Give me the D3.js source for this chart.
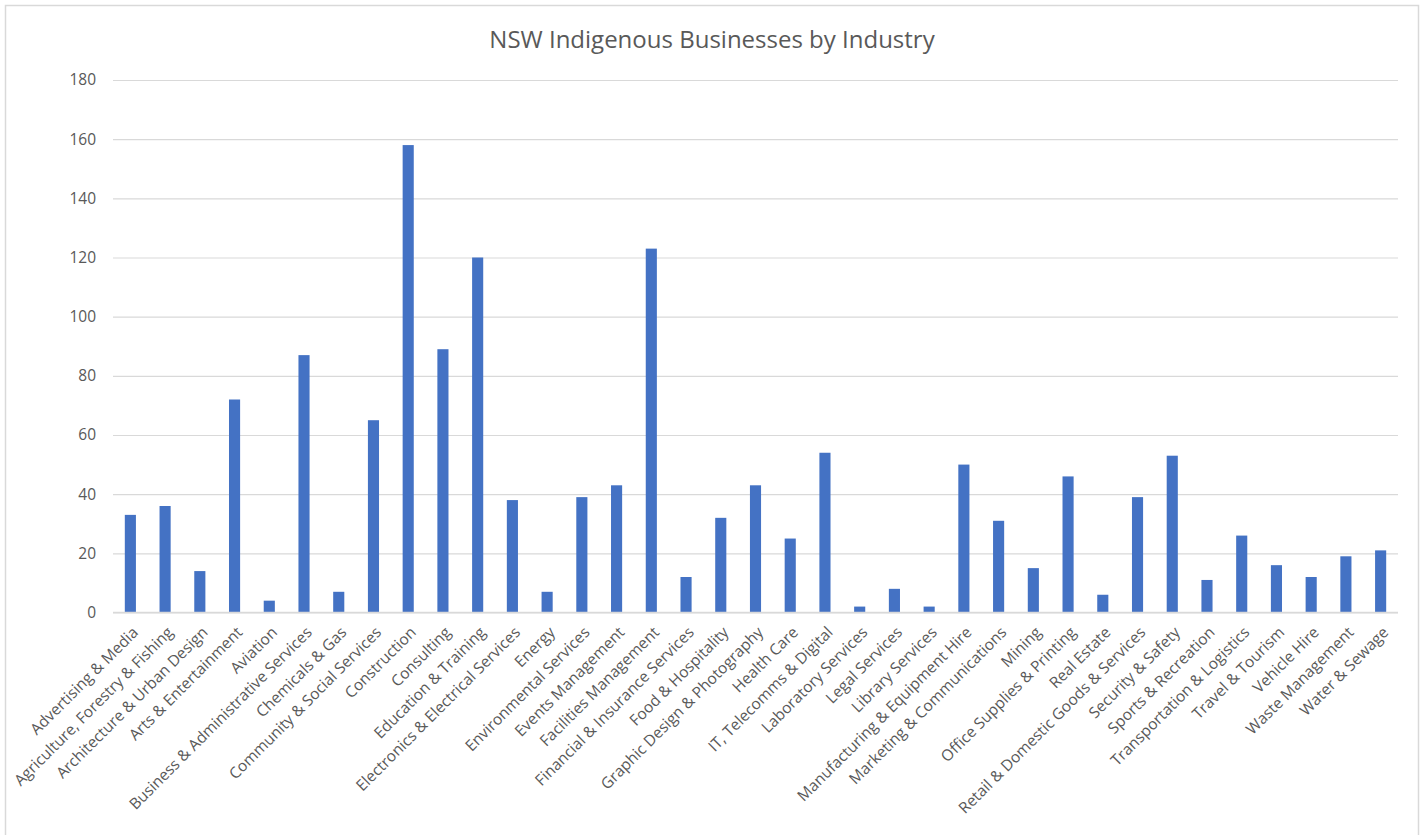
<!DOCTYPE html>
<html>
<head>
<meta charset="utf-8">
<script src="https://cdn.jsdelivr.net/npm/d3@7"></script>
<style>
  body { margin: 0; background: #fff; }
  svg { display: block; font-family: "Open Sans", sans-serif; }
</style>
</head>
<body>
<svg id="svg" width="1426" height="835"></svg>
<script>
const industries = [
  "Advertising & Media", "Agriculture, Forestry & Fishing", "Architecture & Urban Design",
  "Arts & Entertainment", "Aviation", "Business & Administrative Services", "Chemicals & Gas",
  "Community & Social Services", "Construction", "Consulting", "Education & Training",
  "Electronics & Electrical Services", "Energy", "Environmental Services", "Events Management",
  "Facilities Management", "Financial & Insurance Services", "Food & Hospitality",
  "Graphic Design & Photography", "Health Care", "IT, Telecomms & Digital",
  "Laboratory Services", "Legal Services", "Library Services", "Manufacturing & Equipment Hire",
  "Marketing & Communications", "Mining", "Office Supplies & Printing", "Real Estate",
  "Retail & Domestic Goods & Services", "Security & Safety", "Sports & Recreation",
  "Transportation & Logistics", "Travel & Tourism", "Vehicle Hire", "Waste Management",
  "Water & Sewage"
]
const counts = [
  33, 36, 14, 72, 4, 87, 7, 65, 158, 89, 120, 38, 7, 39, 43, 123, 12, 32, 43, 25,
  54, 2, 8, 2, 50, 31, 15, 46, 6, 39, 53, 11, 26, 16, 12, 19, 21
]
const yTicks = [0, 20, 40, 60, 80, 100, 120, 140, 160, 180]

const svg = d3.select('#svg')

// outer chart border (like the spreadsheet chart frame)
svg.append('rect')
  .attr('x', 5.5).attr('y', 5.5)
  .attr('width', 1413).attr('height', 840)
  .attr('fill', 'none')
  .attr('stroke', '#d9d9d9')
  .attr('stroke-width', 1.5)

const plotLeft = 113, plotRight = 1398, plotTop = 80, plotBottom = 612.5

const x = d3.scaleBand()
  .domain(industries)
  .range([plotLeft, plotRight])
  .paddingInner(0.68)
  .paddingOuter(0.34)

const y = d3.scaleLinear()
  .domain([0, 180])
  .range([plotBottom, plotTop])

svg.append('text')
  .attr('x', 712)
  .attr('y', 48)
  .attr('text-anchor', 'middle')
  .attr('font-size', 24)
  .attr('fill', '#595959')
  .text('NSW Indigenous Businesses by Industry')

// gridlines + y labels
const yAxis = svg.append('g')
  .attr('transform', `translate(${plotLeft},0)`)
  .call(d3.axisLeft(y).tickValues(yTicks).tickSize(-(plotRight - plotLeft)).tickPadding(17))
yAxis.select('.domain').remove()
yAxis.selectAll('.tick line').attr('stroke', '#d9d9d9').attr('stroke-width', 1.2)
yAxis.selectAll('.tick text')
  .attr('font-size', 15.5)
  .attr('fill', '#595959')
  .attr('font-family', '"Open Sans", sans-serif')

svg.append('g')
  .selectAll('rect')
  .data(counts)
  .join('rect')
  .attr('x', (d, i) => x(industries[i]))
  .attr('width', x.bandwidth())
  .attr('y', d => y(d))
  .attr('height', d => y(0) - y(d))
  .attr('fill', '#4472c4')

// baseline
svg.append('line')
  .attr('x1', plotLeft).attr('x2', plotRight)
  .attr('y1', plotBottom).attr('y2', plotBottom)
  .attr('stroke', '#d9d9d9')
  .attr('stroke-width', 1.5)

// rotated category labels
svg.append('g')
  .selectAll('text')
  .data(industries)
  .join('text')
  .attr('transform', d => `translate(${x(d) + x.bandwidth() / 2 + 5},${plotBottom + 17}) rotate(-45)`)
  .attr('text-anchor', 'end')
  .attr('dy', '0.35em')
  .attr('font-size', 15.5)
  .attr('fill', '#595959')
  .text(d => d)
</script>
</body>
</html>
